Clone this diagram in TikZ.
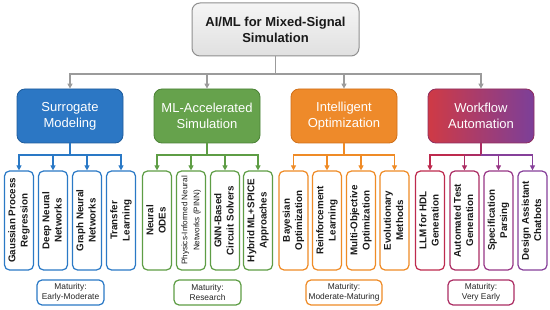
\documentclass[tikz,border=0pt]{standalone}
\usepackage{fontspec}
\setmainfont{Liberation Sans}
\usetikzlibrary{arrows.meta}
% colours
\definecolor{rootline}{HTML}{8F8F8F}
\definecolor{roottop}{HTML}{F5F5F5}
\definecolor{rootbottom}{HTML}{E0E0E0}
\definecolor{linkgray}{HTML}{9B9B9B}
\definecolor{surrfill}{HTML}{2C77C4}
\definecolor{surrline}{HTML}{1E5C9C}
\definecolor{surrleaf}{HTML}{2A79C6}
\definecolor{mlfill}{HTML}{66A24C}
\definecolor{mlline}{HTML}{4B8236}
\definecolor{mlleaf}{HTML}{5E9D45}
\definecolor{optfill}{HTML}{EE8A2A}
\definecolor{optline}{HTML}{D0701A}
\definecolor{optleaf}{HTML}{EF8B26}
\definecolor{wfleft}{HTML}{CF3A45}
\definecolor{wfright}{HTML}{7C3F99}
\definecolor{wfline}{HTML}{8E2D5E}
\definecolor{wfleafa}{HTML}{BE2A4E}
\definecolor{wfleafb}{HTML}{AC2D63}
\definecolor{wfleafc}{HTML}{983787}
\definecolor{wfleafd}{HTML}{86409A}
\definecolor{leafink}{HTML}{1A1A1A}
\newcommand{\leaftxt}[1]{\rotatebox{90}{\begin{tabular}{@{}c@{}}#1\end{tabular}}}
\tikzset{
  rootbox/.style={draw=rootline, line width=1pt, rounded corners=8pt,
    top color=roottop, bottom color=rootbottom, minimum width=167pt,
    minimum height=53pt, align=center, text=black!90,
    font=\fontsize{13}{16}\selectfont\bfseries},
  catbox/.style={line width=0.8pt, rounded corners=8pt, minimum width=106pt,
    minimum height=54pt, align=center, text=white,
    font=\fontsize{13}{16}\selectfont},
  leafbox/.style={draw, fill=white, line width=1.2pt, rounded corners=5pt,
    minimum width=29pt, minimum height=99pt, inner sep=0pt, text=leafink,
    font=\fontsize{9.8}{12.3}\selectfont\bfseries},
  matbox/.style={draw, fill=white, line width=1.2pt, rounded corners=5pt,
    minimum height=25pt, inner sep=2pt, align=center, text=black!85,
    font=\fontsize{8.4}{10}\selectfont},
  graylink/.style={draw=linkgray, line width=1.2pt},
  catlink/.style={line width=1.1pt},
  downtip/.style={-{Triangle[length=5pt,width=5pt]}}
}
\begin{document}
\begin{tikzpicture}[x=1pt, y=-1pt]
\useasboundingbox[fill=white] (0,0) rectangle (550,310);
% Root
\node[rootbox] (root) at (275.5,29.5) {AI/ML for Mixed-Signal\\Simulation};
\coordinate (hub) at (275.5,74);
% Categories
\node[catbox, draw=surrline, fill=surrfill] (surr) at (70,116) {Surrogate\\Modeling};
\node[catbox, draw=mlline, fill=mlfill] (mlsim) at (207,116) {ML-Accelerated\\Simulation};
\node[catbox, draw=optline, fill=optfill] (opt) at (344,116) {Intelligent\\Optimization};
\node[catbox, draw=wfline, left color=wfleft, right color=wfright] (wf) at (481,116) {Workflow\\Automation};
% Root connectors
\draw[graylink] (root.south) -- (hub);
\draw[graylink, downtip] (hub) -| (surr.north);
\draw[graylink, downtip] (hub) -| (mlsim.north);
\draw[graylink, downtip] (hub) -| (opt.north);
\draw[graylink, downtip] (hub) -| (wf.north);
% Surrogate Modeling leaves
\begin{scope}[draw=surrleaf]
  \node[leafbox] (surra) at (19,220.5) {\leaftxt{Gaussian Process\\Regression}};
  \node[leafbox] (surrb) at (53,220.5) {\leaftxt{Deep Neural\\Networks}};
  \node[leafbox] (surrc) at (87,220.5) {\leaftxt{Graph Neural\\Networks}};
  \node[leafbox] (surrd) at (121,220.5) {\leaftxt{Transfer\\Learning}};
  \coordinate (surrhub) at (70,155);
  \draw[catlink, surrleaf] (surr.south) -- (surrhub);
  \draw[catlink, surrleaf, downtip] (surrhub) -| (surra.north);
  \draw[catlink, surrleaf, downtip] (surrhub) -| (surrb.north);
  \draw[catlink, surrleaf, downtip] (surrhub) -| (surrc.north);
  \draw[catlink, surrleaf, downtip] (surrhub) -| (surrd.north);
  \node[matbox, draw=surrleaf, minimum width=67pt] (surrmat) at (70.5,292.5) {Maturity:\\Early-Moderate};
\end{scope}
% ML-Accelerated Simulation leaves
\begin{scope}[draw=mlleaf]
  \node[leafbox] (mla) at (157,220.5) {\leaftxt{Neural\\ODEs}};
  \node[leafbox, font=\fontsize{8.1}{12}\selectfont] (mlb) at (191,220.5) {\leaftxt{Physics-Informed Neural\\Networks (PINN)}};
  \node[leafbox] (mlc) at (225,220.5) {\leaftxt{GNN-Based\\Circuit Solvers}};
  \node[leafbox] (mld) at (258,220.5) {\leaftxt{Hybrid ML+SPICE\\Approaches}};
  \coordinate (mlhub) at (207,155);
  \draw[catlink, mlleaf] (mlsim.south) -- (mlhub);
  \draw[catlink, mlleaf, downtip] (mlhub) -| (mla.north);
  \draw[catlink, mlleaf, downtip] (mlhub) -| (mlb.north);
  \draw[catlink, mlleaf, downtip] (mlhub) -| (mlc.north);
  \draw[catlink, mlleaf, downtip] (mlhub) -| (mld.north);
  \node[matbox, draw=mlleaf, minimum width=67pt] (mlmat) at (207.5,292.5) {Maturity:\\Research};
\end{scope}
% Intelligent Optimization leaves
\begin{scope}[draw=optleaf]
  \node[leafbox] (opta) at (293.5,220.5) {\leaftxt{Bayesian\\Optimization}};
  \node[leafbox] (optb) at (327,220.5) {\leaftxt{Reinforcement\\Learning}};
  \node[leafbox] (optc) at (361,220.5) {\leaftxt{Multi-Objective\\Optimization}};
  \node[leafbox] (optd) at (394.5,220.5) {\leaftxt{Evolutionary\\Methods}};
  \coordinate (opthub) at (344,155);
  \draw[catlink, optleaf] (opt.south) -- (opthub);
  \draw[catlink, optleaf, downtip] (opthub) -| (opta.north);
  \draw[catlink, optleaf, downtip] (opthub) -| (optb.north);
  \draw[catlink, optleaf, downtip] (opthub) -| (optc.north);
  \draw[catlink, optleaf, downtip] (opthub) -| (optd.north);
  \node[matbox, draw=optleaf, minimum width=76pt] (optmat) at (344,292.5) {Maturity:\\Moderate-Maturing};
\end{scope}
% Workflow Automation leaves
\node[leafbox, draw=wfleafa] (wfa) at (430,220.5) {\leaftxt{LLM for HDL\\Generation}};
\node[leafbox, draw=wfleafb] (wfb) at (464.5,220.5) {\leaftxt{Automated Test\\Generation}};
\node[leafbox, draw=wfleafc] (wfc) at (498.5,220.5) {\leaftxt{Specification\\Parsing}};
\node[leafbox, draw=wfleafd] (wfd) at (532.5,220.5) {\leaftxt{Design Assistant\\Chatbots}};
\coordinate (wfhub) at (481,155);
\draw[catlink, wfleafb] (wf.south) -- (wfhub);
\draw[catlink, wfleafa, downtip] (wfhub) -| (wfa.north);
\draw[catlink, wfleafb, downtip] (wfhub) -| (wfb.north);
\draw[catlink, wfleafc, downtip] (wfhub) -| (wfc.north);
\draw[catlink, wfleafd, downtip] (wfhub) -| (wfd.north);
\node[matbox, draw=wfleafb, minimum width=66pt] (wfmat) at (481,292.5) {Maturity:\\Very Early};
\end{tikzpicture}
\end{document}
